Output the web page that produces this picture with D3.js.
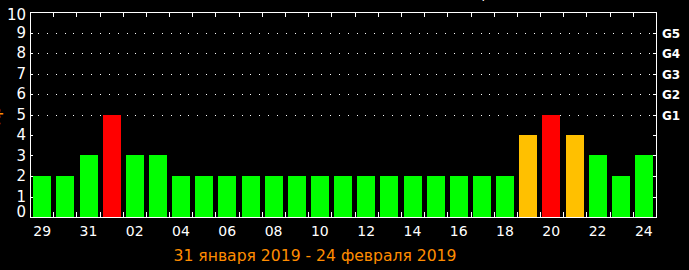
<!DOCTYPE html>
<html>
<head>
<meta charset="utf-8">
<script src="https://cdn.jsdelivr.net/npm/d3@7"></script>
<style>
  html, body { margin: 0; padding: 0; background: #000; }
  svg { display: block; }
  text { font-family: "DejaVu Sans", Verdana, sans-serif; }
</style>
</head>
<body>
<svg id="chart" width="689" height="270"></svg>
<script>
// ---- data ----
const days = ["29","30","31","01","02","03","04","05","06","07","08","09","10","11","12","13","14","15","16","17","18","19","20","21","22","23","24"];
const kpValues = [2,2,3,5,3,3,2,2,2,2,2,2,2,2,2,2,2,2,2,2,2,4,5,4,3,2,3];
const yTicks = [0,1,2,3,4,5,6,7,8,9,10];
const gLevels = [5,6,7,8,9];
const gLabels = ["G1","G2","G3","G4","G5"];
const dateLabel = "31 января 2019 - 24 февраля 2019";
const yAxisTitle = "Kp";
const chartTitle = "Геомагнитная обстановка, Kp-индекс (данные NOAA)";

(function () {
// ---- layout ----
const svg = d3.select("#chart");
const pL = 30, pR = 656, pT = 12, pB = 217;

const x = d3.scaleBand().domain(d3.range(days.length)).range([pL, pR])
  .paddingInner(0.23).paddingOuter(0.14);
const y = d3.scaleLinear().domain([0, 10]).range([pB, pT]);
const step = (pR - pL) / days.length;

function barColor(v) { return v >= 5 ? "#ff0000" : (v >= 4 ? "#ffc000" : "#00ff00"); }

// dotted gridlines
svg.append("g").selectAll("line").data(gLevels).join("line")
  .attr("x1", pL + 8).attr("x2", pR - 1)
  .attr("y1", d => Math.round(y(d)) + 0.5).attr("y2", d => Math.round(y(d)) + 0.5)
  .attr("stroke", "#fff").attr("stroke-width", 1)
  .attr("stroke-dasharray", "1,7.85")
  .attr("shape-rendering", "crispEdges");

// bars
svg.append("g").selectAll("rect").data(kpValues).join("rect")
  .attr("x", (d, i) => Math.round(x(i)))
  .attr("width", Math.round(x.bandwidth()))
  .attr("y", d => Math.round(y(d)))
  .attr("height", d => pB - Math.round(y(d)))
  .attr("fill", d => barColor(d))
  .attr("shape-rendering", "crispEdges");

// vertical ticks at bar boundaries (top and bottom)
const bounds = d3.range(1, days.length);
const tickG = svg.append("g").attr("stroke", "#fff").attr("shape-rendering", "crispEdges");
tickG.selectAll(".tt").data(bounds).join("line").attr("class", "tt")
  .attr("x1", i => Math.round(pL + i * step) + 0.5).attr("x2", i => Math.round(pL + i * step) + 0.5)
  .attr("y1", pT).attr("y2", pT + 5);
tickG.selectAll(".tb").data(bounds).join("line").attr("class", "tb")
  .attr("x1", i => Math.round(pL + i * step) + 0.5).attr("x2", i => Math.round(pL + i * step) + 0.5)
  .attr("y1", pB - 5).attr("y2", pB);

// horizontal inward ticks on both sides
tickG.selectAll(".tl").data(yTicks).join("line").attr("class", "tl")
  .attr("x1", pL).attr("x2", pL + 3)
  .attr("y1", d => Math.round(y(d)) + 0.5).attr("y2", d => Math.round(y(d)) + 0.5);
tickG.selectAll(".tr").data(yTicks).join("line").attr("class", "tr")
  .attr("x1", pR - 3).attr("x2", pR)
  .attr("y1", d => Math.round(y(d)) + 0.5).attr("y2", d => Math.round(y(d)) + 0.5);

// frame
svg.append("rect")
  .attr("x", pL + 0.5).attr("y", pT + 0.5)
  .attr("width", pR - pL).attr("height", pB - pT)
  .attr("fill", "none").attr("stroke", "#fff").attr("stroke-width", 1)
  .attr("shape-rendering", "crispEdges");

// left y labels (clamped inside the frame)
svg.append("g").selectAll("text").data(yTicks).join("text")
  .attr("x", 26)
  .attr("y", d => Math.min(Math.max(y(d), pT + 3), pB - 5.5))
  .attr("dy", "0.36em")
  .attr("text-anchor", "end")
  .attr("fill", "#fff").attr("font-size", 15)
  .text(d => d);

// right G labels
svg.append("g").selectAll("text").data(gLevels).join("text")
  .attr("x", 662)
  .attr("y", d => y(d) + 1)
  .attr("dy", "0.36em")
  .attr("fill", "#fff").attr("font-size", 12).attr("font-weight", "bold")
  .text((d, i) => gLabels[i]);

// x labels every other day
svg.append("g").selectAll("text").data(days.map((d, i) => i).filter(i => i % 2 === 0)).join("text")
  .attr("x", i => x(i) + x.bandwidth() / 2)
  .attr("y", 236)
  .attr("text-anchor", "middle")
  .attr("fill", "#fff").attr("font-size", 14)
  .text(i => days[i]);

// date range label
svg.append("text")
  .attr("x", 315).attr("y", 261)
  .attr("text-anchor", "middle")
  .attr("fill", "#ff8c00").attr("font-size", 15.6)
  .text(dateLabel);

// y axis title (mostly cut off)
svg.append("text")
  .attr("transform", "translate(0,116) rotate(-90)")
  .attr("text-anchor", "middle")
  .attr("fill", "#ff8c00").attr("font-size", 15)
  .text(yAxisTitle);

// chart title (cut off at the top)
svg.append("text")
  .attr("x", 652).attr("y", -2)
  .attr("text-anchor", "end")
  .attr("fill", "#fff").attr("font-size", 13)
  .text(chartTitle);
})();
</script>
</body>
</html>
